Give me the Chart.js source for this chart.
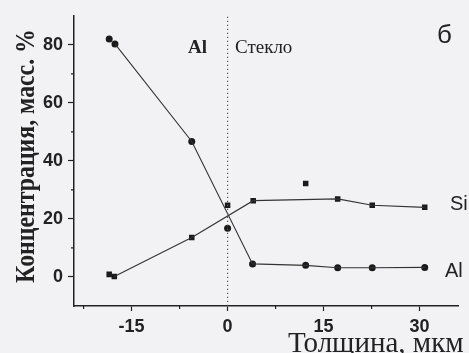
<!DOCTYPE html>
<html>
<head>
<meta charset="utf-8">
<script src="https://cdn.jsdelivr.net/npm/chart.js@4"></script>
<style>
  html, body { margin: 0; padding: 0; background: #f2f2f4; }
  #wrap { width: 469px; height: 353px; }
</style>
</head>
<body>
<div id="wrap"><canvas id="profileChart" width="469" height="353"></canvas></div>
<script>
/*
 * Depth profile: Al / Si concentration across the Al–glass boundary.
 * Markers are the measured points, thin lines are the drawn trends.
 */

// ── Measured points (thickness, µm → concentration, wt.%)
const alDepth = [-18.5, -17.6, -5.6, 0, 3.9, 12.2, 17.2, 22.6, 30.8];
const alConc  = [82.0, 80.3, 46.7, 16.8, 4.5, 4.0, 3.2, 3.2, 3.3];

const siDepth = [-18.5, -17.7, -5.6, 0, 4.0, 12.2, 17.2, 22.6, 30.8];
const siConc  = [0.9, 0.2, 13.6, 24.7, 26.3, 32.2, 26.9, 24.7, 24.0];

// ── Trend lines
const alTrendDepth = [-17.6, -5.6, 3.9, 12.2, 17.2, 22.6, 30.8];
const alTrendConc  = [80.3, 46.7, 4.5, 4.0, 3.2, 3.2, 3.3];

const siTrendDepth = [-17.7, -5.6, 4.0, 17.2, 22.6, 30.8];
const siTrendConc  = [0.2, 13.6, 26.3, 26.9, 24.7, 24.0];

// ── Interface position
const boundaryX = 0;

// ── Axis ticks
const xMajorTicks = [-15, 0, 15, 30];
const xMinorTicks = [-22.5, -7.5, 7.5, 22.5];
const yMajorTicks = [0, 20, 40, 60, 80];
const yMinorTicks = [10, 30, 50, 70];

const INK = '#222';

const toPoints = (xs, ys) => xs.map((x, i) => ({ x: x, y: ys[i] }));

/* minor ticks + text labels, drawn on top of the scales */
const decorPlugin = {
  id: 'decor',
  afterDraw(chart) {
    const ctx = chart.ctx;
    const xs = chart.scales.x;
    const ys = chart.scales.y;
    const area = chart.chartArea;

    ctx.save();
    ctx.strokeStyle = INK;
    ctx.lineWidth = 1.2;
    ctx.beginPath();
    xMinorTicks.forEach(v => {
      const px = xs.getPixelForValue(v);
      ctx.moveTo(px, area.bottom);
      ctx.lineTo(px, area.bottom + 3);
    });
    yMinorTicks.forEach(v => {
      const py = ys.getPixelForValue(v);
      ctx.moveTo(area.left, py);
      ctx.lineTo(area.left - 3, py);
    });
    ctx.stroke();

    ctx.fillStyle = INK;
    ctx.textBaseline = 'alphabetic';
    ctx.textAlign = 'left';

    // region labels
    ctx.font = 'bold 19px "Liberation Serif", serif';
    ctx.fillText('Al', 188, 53);
    ctx.font = '19px "Liberation Serif", serif';
    ctx.fillText('Стекло', 235, 53);

    // panel letter
    ctx.font = '26px "Liberation Sans", sans-serif';
    ctx.fillText('б', 437, 43);

    // series labels
    ctx.font = '20px "Liberation Sans", sans-serif';
    ctx.fillText('Si', 450, 210);
    ctx.fillText('Al', 445, 277);

    // axis titles
    ctx.font = '29px "Liberation Serif", serif';
    ctx.fillText('Толщина, мкм', 288, 352);

    // y title: tall glyphs, squeezed along the text direction
    ctx.translate(34, 156);
    ctx.rotate(-Math.PI / 2);
    ctx.scale(0.85, 1);
    ctx.textAlign = 'center';
    ctx.font = 'bold 28px "Liberation Serif", serif';
    ctx.fillText('Концентрация, масс. %', 0, 0);
    ctx.restore();
  }
};

const tickFont = { family: '"Liberation Sans", sans-serif', size: 18, weight: 'bold' };

new Chart(document.getElementById('profileChart'), {
  type: 'scatter',
  data: {
    datasets: [
      {
        // dotted boundary at x = 0
        type: 'line',
        data: [{ x: boundaryX, y: -10 }, { x: boundaryX, y: 90 }],
        borderColor: '#555',
        borderWidth: 1.2,
        borderDash: [1.2, 2.8],
        pointRadius: 0,
      },
      {
        type: 'line',
        data: toPoints(alTrendDepth, alTrendConc),
        borderColor: '#333',
        borderWidth: 1.1,
        pointRadius: 0,
        tension: 0,
      },
      {
        type: 'line',
        data: toPoints(siTrendDepth, siTrendConc),
        borderColor: '#333',
        borderWidth: 1.1,
        pointRadius: 0,
        tension: 0,
      },
      {
        data: toPoints(alDepth, alConc),
        pointStyle: 'circle',
        pointRadius: 3.5,
        backgroundColor: '#1a1a1a',
        borderColor: '#1a1a1a',
        borderWidth: 0,
      },
      {
        data: toPoints(siDepth, siConc),
        pointStyle: 'rect',
        pointRadius: 3.9,
        backgroundColor: '#1a1a1a',
        borderColor: '#1a1a1a',
        borderWidth: 0,
      },
    ],
  },
  options: {
    responsive: false,
    animation: false,
    layout: { padding: { top: 12, right: 11, left: 0, bottom: 0 } },
    plugins: {
      legend: { display: false },
      tooltip: { enabled: false },
    },
    scales: {
      x: {
        type: 'linear',
        min: -24,
        max: 36,
        afterBuildTicks: s => { s.ticks = xMajorTicks.map(v => ({ value: v })); },
        afterFit: s => { s.height = 47; },
        grid:   { drawOnChartArea: false, drawTicks: true, tickLength: 5, tickColor: INK, tickWidth: 1.2 },
        border: { display: true, color: INK, width: 1.5 },
        ticks:  { color: INK, font: tickFont, padding: 5, maxRotation: 0 },
      },
      y: {
        type: 'linear',
        min: -10,
        max: 90,
        afterBuildTicks: s => { s.ticks = yMajorTicks.map(v => ({ value: v })); },
        afterFit: s => { s.width = 74; },
        grid:   { drawOnChartArea: false, drawTicks: true, tickLength: 6, tickColor: INK, tickWidth: 1.2 },
        border: { display: true, color: INK, width: 1.5 },
        ticks:  { color: INK, font: tickFont, padding: 5 },
      },
    },
  },
  plugins: [decorPlugin],
});
</script>
</body>
</html>
